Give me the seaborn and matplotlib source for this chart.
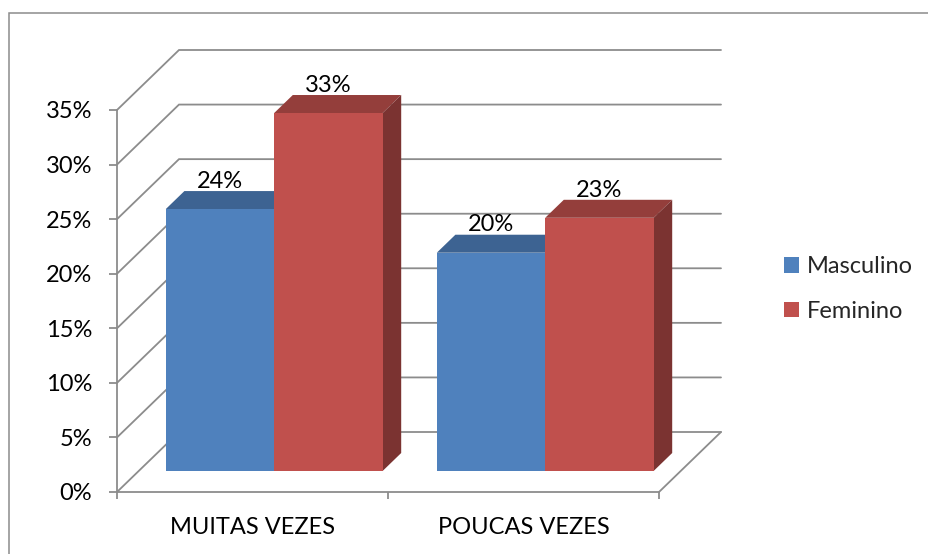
import numpy as np
import pandas as pd
import seaborn as sns
import matplotlib.pyplot as plt
from matplotlib.patches import Polygon, Rectangle
import matplotlib.colors as mcolors

# data
categories = ["MUITAS VEZES", "POUCAS VEZES"]
series = ["Masculino", "Feminino"]
masculino = [24.0, 20.0]
feminino = [32.8, 23.2]
y_ticks = [0, 5, 10, 15, 20, 25, 30, 35]
palette = {"Masculino": "#4F81BD", "Feminino": "#C0504D"}

df = pd.DataFrame({
    "categoria": categories * 2,
    "sexo": [series[0]] * len(categories) + [series[1]] * len(categories),
    "valor": masculino + feminino,
})

W, H = 929, 554
sns.set_theme(style="white")
plt.rcParams["font.family"] = ["Lato", "DejaVu Sans"]
FS = 17
GRID = "#8C8C8C"

fig = plt.figure(figsize=(W / 100, H / 100), dpi=100)

# layout of the fake 3d box, in image pixels
fx0, fx1, fy0, fytop = 117, 659, 492, 110
depth = (62, 60)          # offset from front plane to back wall
bar_d0, bar_d1 = 0.35, 0.65
ymax = 35


def frac(x, y):
    return x / W, 1 - y / H


def add_plane(d):
    x0, y0 = fx0 + d * depth[0], fy0 - d * depth[1]
    x1, y1 = fx1 + d * depth[0], fytop - d * depth[1]
    l, b = frac(x0, y0)
    r, t = frac(x1, y1)
    a = fig.add_axes([l, b, r - l, t - b])
    a.set_xlim(-0.5, len(categories) - 0.5)
    a.set_ylim(0, ymax)
    a.patch.set_alpha(0)
    return a


ax_front = add_plane(0)
ax = add_plane(bar_d0)

# depth vector in data units
vx = depth[0] / ((fx1 - fx0) / len(categories))
vy = depth[1] / ((fy0 - fytop) / ymax)
xl, xr = -0.5, len(categories) - 0.5

# walls and gridlines
for t in y_ticks:
    ax_front.plot([xl, xl + vx, xr + vx], [t, t + vy, t + vy], color=GRID,
                  lw=1.3, clip_on=False, zorder=1, solid_joinstyle="miter")
ax_front.plot([xr, xr + vx], [0, vy], color=GRID, lw=1.3, clip_on=False, zorder=1)

# front axis
sns.despine(ax=ax_front, top=True, right=True)
for s in ["left", "bottom"]:
    ax_front.spines[s].set_color(GRID)
    ax_front.spines[s].set_linewidth(1.3)
ax_front.set_yticks(y_ticks)
ax_front.set_yticklabels([f"{t}%" for t in y_ticks], fontsize=FS)
ax_front.set_xticks(range(len(categories)))
ax_front.set_xticklabels(categories, fontsize=FS)
ax_front.set_xticks([xl + i for i in range(len(categories) + 1)], minor=True)
ax_front.tick_params(axis="y", which="major", left=True, length=6, width=1.3,
                     color=GRID, pad=12, labelcolor="black")
ax_front.tick_params(axis="x", which="major", bottom=False, length=0, pad=18,
                     labelcolor="black")
ax_front.tick_params(axis="x", which="minor", bottom=True, length=5, width=1.3,
                     color=GRID)
ax_front.set_xlabel("")
ax_front.set_ylabel("")

# bars (front faces)
sns.barplot(data=df, x="categoria", y="valor", hue="sexo", palette=palette,
            hue_order=series, order=categories, width=0.8, saturation=1,
            legend=False, ax=ax)
ax.set_xlim(xl, xr)
ax.set_ylim(0, ymax)
ax.set_axis_off()

bdx = (bar_d1 - bar_d0) * vx
bdy = (bar_d1 - bar_d0) * vy
for p in list(ax.patches):
    x, w, h = p.get_x(), p.get_width(), p.get_height()
    face = np.array(mcolors.to_rgb(p.get_facecolor()))
    p.set_zorder(3)
    p.set_edgecolor("none")
    top = Polygon([(x, h), (x + w, h), (x + w + bdx, h + bdy), (x + bdx, h + bdy)],
                  closed=True, fc=face * 0.77, ec="none", zorder=2, clip_on=False)
    side = Polygon([(x + w, 0), (x + w + bdx, bdy), (x + w + bdx, h + bdy), (x + w, h)],
                   closed=True, fc=face * 0.64, ec="none", zorder=2, clip_on=False)
    ax.add_patch(top)
    ax.add_patch(side)
    ax.annotate(f"{h:.0f}%", (x + w / 2, h), xytext=(0, 20), textcoords="offset points",
                ha="center", va="center", fontsize=FS, color="black",
                annotation_clip=False, zorder=4)

# legend
handles = [Rectangle((0, 0), 1, 1, fc=palette[s], ec="none") for s in series]
fig.legend(handles, series, loc="center left", bbox_to_anchor=frac(784, 289),
           frameon=False, fontsize=FS, handlelength=0.64, handleheight=0.64,
           handletextpad=0.32, labelspacing=1.0, borderpad=0, borderaxespad=0)

# outer chart border
fig.add_artist(Rectangle((9.5 / W, -0.1), 1.2, 1.1 - 13.5 / H, transform=fig.transFigure,
                         fill=False, ec="#8C8C8C", lw=1.1))

fig.savefig("out.png", dpi=100)
